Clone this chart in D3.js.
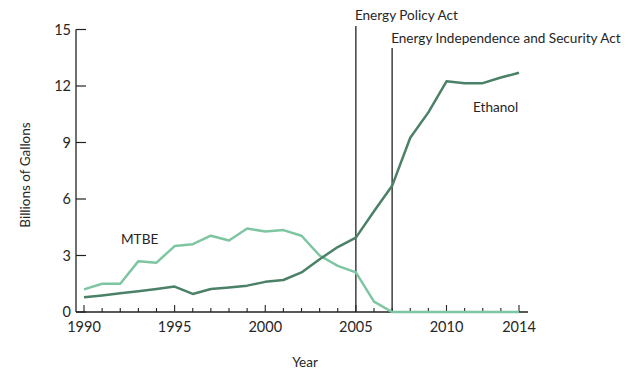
<!DOCTYPE html>
<html>
<head>
<meta charset="utf-8">
<script src="https://cdn.jsdelivr.net/npm/d3@7"></script>
<style>
	body { margin: 0; background: #fff; }
	svg text { font-family: Lato, "Open Sans", sans-serif; font-weight: 400; fill: #262626; }
</style>
</head>
<body>
<svg id="chart" width="641" height="384"></svg>
<script>
'use strict';

var arrayYears = d3.range(1990, 2015);
var arrayEthanol = [0.78, 0.88, 1.0, 1.1, 1.22, 1.35, 0.96, 1.22, 1.3, 1.4, 1.6, 1.7, 2.1, 2.8, 3.45, 3.95, 5.35, 6.7, 9.25, 10.6, 12.25, 12.15, 12.15, 12.45, 12.7];
var arrayMtbe = [1.2, 1.5, 1.5, 2.7, 2.62, 3.5, 3.6, 4.05, 3.8, 4.43, 4.28, 4.35, 4.05, 3.0, 2.45, 2.1, 0.55, 0, 0, 0, 0, 0, 0, 0, 0];
var arrayXTickLabels = [1990, 1995, 2000, 2005, 2010, 2014];
var arrayYTicks = [0, 3, 6, 9, 12, 15];
var arrayActs = [
	{ year: 2005, name: 'Energy Policy Act' },
	{ year: 2007, name: 'Energy Independence and Security Act' }
];

function DrawChart(selector)
{
	var svg = d3.select(selector);

	var nLeft = 76;
	var nBottom = 312;
	var nTop = 29.5;

	var xScale = d3.scaleLinear()
		.domain([1990, 2014])
		.range([84, 519]);

	var yScale = d3.scaleLinear()
		.domain([0, 15])
		.range([nBottom, nTop]);

	var strDark = '#4b8166';
	var strLight = '#7ec6a2';

	// y axis line and ticks (ticks point inward)
	svg.append('line')
		.attr('x1', nLeft).attr('x2', nLeft)
		.attr('y1', yScale(15)).attr('y2', nBottom)
		.attr('stroke', '#222').attr('stroke-width', 1.3);

	svg.selectAll('.ytick')
		.data(arrayYTicks)
		.enter()
		.append('line')
		.attr('x1', nLeft).attr('x2', nLeft + 10)
		.attr('y1', function(d) { return yScale(d); })
		.attr('y2', function(d) { return yScale(d); })
		.attr('stroke', '#222').attr('stroke-width', 1.2);

	svg.selectAll('.ylabel')
		.data(arrayYTicks)
		.enter()
		.append('text')
		.attr('x', nLeft - 5)
		.attr('y', function(d) { return yScale(d) + 5; })
		.attr('text-anchor', 'end')
		.attr('font-size', 14.5)
		.text(function(d) { return d; });

	// x axis line and ticks
	svg.append('line')
		.attr('x1', nLeft).attr('x2', 528)
		.attr('y1', nBottom).attr('y2', nBottom)
		.attr('stroke', '#222').attr('stroke-width', 1.3);

	svg.selectAll('.xtick')
		.data(arrayYears)
		.enter()
		.append('line')
		.attr('x1', function(d) { return xScale(d); })
		.attr('x2', function(d) { return xScale(d); })
		.attr('y1', nBottom)
		.attr('y2', function(d) { return arrayXTickLabels.indexOf(d) >= 0 ? nBottom - 7 : nBottom - 4; })
		.attr('stroke', '#222').attr('stroke-width', 1.1);

	svg.selectAll('.xlabel')
		.data(arrayXTickLabels)
		.enter()
		.append('text')
		.attr('x', function(d) { return xScale(d); })
		.attr('y', nBottom + 20)
		.attr('text-anchor', 'middle')
		.attr('font-size', 14.5)
		.text(function(d) { return d; });

	// axis titles
	svg.append('text')
		.attr('transform', 'translate(30,175) rotate(-90)')
		.attr('text-anchor', 'middle')
		.attr('font-size', 13.5)
		.text('Billions of Gallons');

	svg.append('text')
		.attr('x', 305).attr('y', 367)
		.attr('text-anchor', 'middle')
		.attr('font-size', 13.5)
		.text('Year');

	// act markers
	svg.selectAll('.act')
		.data(arrayActs)
		.enter()
		.append('line')
		.attr('x1', function(d) { return xScale(d.year); })
		.attr('x2', function(d) { return xScale(d.year); })
		.attr('y1', function(d, i) { return i == 0 ? 26 : 48; })
		.attr('y2', nBottom)
		.attr('stroke', '#222').attr('stroke-width', 1.3);

	svg.selectAll('.actlabel')
		.data(arrayActs)
		.enter()
		.append('text')
		.attr('x', function(d) { return xScale(d.year) - 1; })
		.attr('y', function(d, i) { return i == 0 ? 20 : 43; })
		.attr('font-size', 13.6)
		.text(function(d) { return d.name; });

	// series lines
	var line = d3.line()
		.x(function(d, i) { return xScale(arrayYears[i]); })
		.y(function(d) { return yScale(d); });

	svg.append('path')
		.datum(arrayMtbe)
		.attr('d', line)
		.attr('fill', 'none')
		.attr('stroke', strLight)
		.attr('stroke-width', 2.5)
		.attr('stroke-linejoin', 'round');

	svg.append('path')
		.datum(arrayEthanol)
		.attr('d', line)
		.attr('fill', 'none')
		.attr('stroke', strDark)
		.attr('stroke-width', 2.5)
		.attr('stroke-linejoin', 'round');

	// series labels
	svg.append('text')
		.attr('x', 121).attr('y', 244)
		.attr('font-size', 13.6)
		.text('MTBE');

	svg.append('text')
		.attr('x', 473).attr('y', 112)
		.attr('font-size', 13.6)
		.text('Ethanol');
}

DrawChart('#chart');
</script>
</body>
</html>
